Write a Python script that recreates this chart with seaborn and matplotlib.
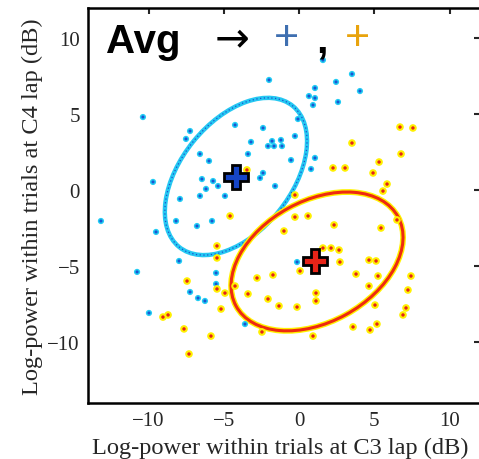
import matplotlib
matplotlib.use("Agg")
import matplotlib.pyplot as plt
import seaborn as sns
from matplotlib.patches import Ellipse

# --- data (dB) ---
blue_x = [1.59, -1.99, 3.52, 2.46, 1.06, 0.66, 1.06, 0.93, 2.59, 4.05,
          -2.39, -0.27, -3.19, -2.06, -1.79, -1.66, -1.20, -1.13, -3.39, -0.53,
          1.06, 0.80, -2.39, -2.59, -1.59, -4.25, -0.07, -10.37, -7.24, -7.51,
          -6.58, -5.98, -9.70, -7.91, -6.45, -6.18, -5.71, -5.38, -6.58, -13.16,
          -8.17, -6.78, -5.78, -4.92, -9.50, -7.97, -10.76, -7.24, -6.71, -6.25,
          -9.97, -5.51, -5.51, -3.59, -0.13]
blue_y = [8.55, 7.24, 7.63, 7.11, 6.71, 6.18, 6.05, 5.59, 5.79, 6.51,
          4.08, 3.55, 3.16, 2.89, 3.22, 2.89, 3.29, 2.89, 2.37, 1.97,
          2.11, 1.38, 1.12, 0.79, 0.26, 4.28, 4.67, 4.80, 3.88, 3.36,
          2.37, 1.91, 0.53, -0.59, 0.72, 0.07, 0.59, 0.26, -0.39, -2.04,
          -2.04, -2.37, -2.04, -0.39, -2.76, -4.67, -5.39, -6.71, -7.11, -7.30,
          -8.09, -6.18, -5.46, -8.82, -4.74]

orange_x = [6.71, 7.57, 3.52, 5.32, 2.26, 3.06, 4.92, 5.85, 5.58, -0.27,
            -0.27, 0.60, 2.33, -3.46, 6.51, -4.58, -1.00, 1.59, 2.13, 2.66,
            2.72, 0.07, -2.79, -1.73, -4.25, -3.39, -4.92, -2.06, -1.33, -0.13,
            1.13, 1.13, -5.18, 5.45, 4.65, 5.12, 3.79, 5.25, 4.65, 7.44,
            7.24, 5.05, 7.11, 6.91, 3.59, 4.72, 5.18, 0.93, -2.46, -7.44,
            -5.45, -5.45, -5.45, -9.04, -8.70, -7.64, -5.85, -7.31, 6.78]
orange_y = [4.14, 4.08, 3.09, 1.84, 1.45, 1.45, 1.12, 0.39, -0.07, -0.33,
            -1.78, -1.71, -2.30, 1.32, -1.97, -1.71, -2.70, -3.82, -3.82, -3.95,
            -4.74, -5.33, -5.79, -5.59, -6.32, -6.84, -6.78, -7.17, -7.63, -7.70,
            -6.78, -7.30, -7.83, -2.50, -4.61, -4.67, -5.53, -5.66, -6.32, -5.66,
            -6.58, -7.57, -7.76, -8.22, -9.01, -9.21, -8.82, -9.61, -9.34, -5.99,
            -3.68, -4.47, -6.51, -8.36, -8.22, -9.14, -9.61, -10.79, 2.37]

blue_mean = (-4.2, 0.86)
orange_mean = (1.06, -4.67)

blue_ell_center = (-4.19, 0.89)
blue_ell_size = (11.96, 7.3)
blue_ell_angle = 50.7
orange_ell_center = (1.2, -4.7)
orange_ell_size = (12.26, 7.98)
orange_ell_angle = 28.5

ticks = [-10, -5, 0, 5, 10]

sns.set_style("white")
plt.rcParams["font.family"] = ["Liberation Serif", "DejaVu Serif"]

fig = plt.figure(figsize=(4.79, 4.6), dpi=100)
ax = fig.add_axes([88.3 / 479, (460 - 403.8) / 460, 391.3 / 479, 395.2 / 460])

# ellipses
ax.add_patch(Ellipse(blue_ell_center, *blue_ell_size, angle=blue_ell_angle,
                     fill=False, ec="#25c8f2", lw=3.2, zorder=2))
ax.add_patch(Ellipse(blue_ell_center, *blue_ell_size, angle=blue_ell_angle,
                     fill=False, ec="#1a4fcf", lw=0.9, ls=(0, (1, 2)), zorder=2))
ax.add_patch(Ellipse(orange_ell_center, *orange_ell_size, angle=orange_ell_angle,
                     fill=False, ec="#fff200", lw=4.2, zorder=2))
ax.add_patch(Ellipse(orange_ell_center, *orange_ell_size, angle=orange_ell_angle,
                     fill=False, ec="#ee2a10", lw=2.2, zorder=2))

# trial points
sns.scatterplot(x=blue_x, y=blue_y, color="#22cdf4", s=20, edgecolor="none", ax=ax, zorder=3)
sns.scatterplot(x=blue_x, y=blue_y, color="#1a55d2", s=5, edgecolor="none", ax=ax, zorder=3)
sns.scatterplot(x=orange_x, y=orange_y, color="#fff000", s=30, edgecolor="none", ax=ax, zorder=3)
sns.scatterplot(x=orange_x, y=orange_y, color="#e3231a", s=6, edgecolor="none", ax=ax, zorder=3)

# means
ax.plot(*blue_mean, marker="P", ms=17, mfc="#1645c6", mec="black", mew=2, zorder=5)
ax.plot(*orange_mean, marker="P", ms=17, mfc="#e82418", mec="black", mew=2, zorder=5)

# title-ish annotation
sans = ["Liberation Sans", "DejaVu Sans"]
ax.text(0.044, 0.888, "Avg", transform=ax.transAxes, fontsize=29, weight="bold",
        family=sans, color="black", va="baseline", ha="left")
ax.text(0.368, 0.922, "\u2192", transform=ax.transAxes, fontsize=30,
        family=["DejaVu Sans"], color="black", va="center", ha="center")
ax.text(0.506, 0.924, "+", transform=ax.transAxes, fontsize=31,
        family=sans, color="#3f6fb0", va="center", ha="center")
ax.text(0.596, 0.888, ",", transform=ax.transAxes, fontsize=30, weight="bold",
        family=sans, color="black", va="baseline", ha="center")
ax.text(0.689, 0.924, "+", transform=ax.transAxes, fontsize=31,
        family=sans, color="#e8a30d", va="center", ha="center")

ax.set_xlim(-14, 12)
ax.set_ylim(-14, 12)
ax.set_xticks(ticks)
ax.set_yticks(ticks)
ax.tick_params(direction="in", top=True, right=True, length=4, width=1.5,
               labelsize=15, pad=6)
for s in ax.spines.values():
    s.set_linewidth(1.8)
    s.set_color("black")

ax.set_xlabel("Log-power within trials at C3 lap (dB)", fontsize=17.6, labelpad=2)
ax.xaxis.set_label_coords(0.49, -0.085)
ax.set_ylabel("Log-power within trials at C4 lap (dB)", fontsize=17.6, labelpad=3)

fig.savefig("out.png", dpi=100)
